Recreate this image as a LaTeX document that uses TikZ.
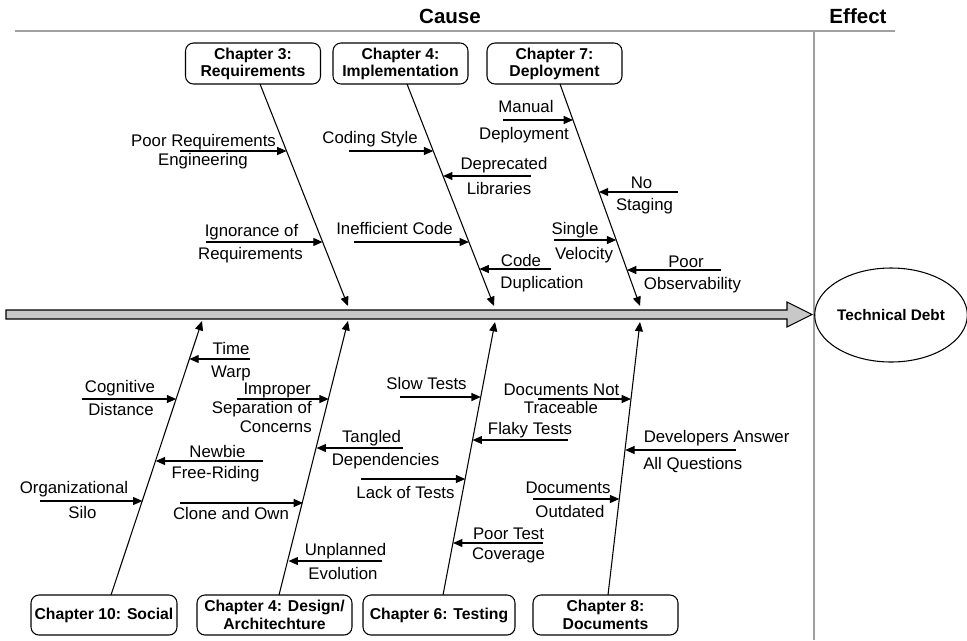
\documentclass[tikz,border=0pt]{standalone}
\usepackage{fontspec}
\setmainfont{Liberation Sans}
\usetikzlibrary{arrows.meta,shapes.geometric}
\definecolor{rulegray}{HTML}{A0A0A0}
\definecolor{spinegray}{HTML}{C8C8C8}
\tikzset{
  lbl/.style={font=\fontsize{12.6}{14}\selectfont, inner sep=0pt, text height=9pt, text depth=0pt},
  chap/.style={draw, rounded corners=6pt, line width=0.8pt, align=center, inner sep=0pt,
               font=\bfseries\fontsize{11.8}{#1}\selectfont},
  hdr/.style={font=\bfseries\fontsize{15.4}{18}\selectfont, inner sep=0pt, text height=11pt, text depth=0pt},
  bone/.style={line width=0.8pt, -{Triangle[length=7pt,width=6pt]}},
  cause/.style={line width=0.8pt, -{Triangle[length=7pt,width=6pt]}},
  rule/.style={draw=rulegray, line width=1.5pt},
}
\begin{document}
\begin{tikzpicture}[x=0.75pt,y=-0.75pt]
\fill[white] (0,0) rectangle (967,640);
\useasboundingbox (0,0) rectangle (967,640);

% header
\node[hdr] (cause) at (450,16) {Cause};
\node[hdr] (effect) at (858,16) {Effect};
\coordinate (rl) at (15,31); \coordinate (rr) at (895,31);
\coordinate (vt) at (814,31); \coordinate (vb) at (814,640);
\draw[rule] (rl) -- (rr);
\draw[draw=rulegray, line width=1.1pt] (vt) -- (vb);

% spine
\draw[fill=spinegray, line width=0.8pt] (6,310) -- (787,310) -- (787,302) -- (812,314.5)
  -- (787,327) -- (787,319) -- (6,319) -- cycle;

% effect
\node[ellipse, draw, line width=0.8pt, minimum width=105.75pt, minimum height=70.5pt, inner sep=0pt,
      font=\bfseries\fontsize{11.5}{13}\selectfont] (td) at (891,315) {Technical Debt};

% top chapter boxes
\node[chap=12.75, minimum width=101.25pt, minimum height=30.75pt] (c3) at (253,63.5) {Chapter 3:\\Requirements};
\node[chap=12.75, minimum width=101.25pt, minimum height=30.75pt] (c4) at (400.5,63.5) {Chapter 4:\\Implementation};
\node[chap=12.75, minimum width=101.25pt, minimum height=30.75pt] (c7) at (554.5,63.5) {Chapter 7:\\Deployment};

% bottom chapter boxes
\node[chap=14, minimum width=109.5pt, minimum height=30pt] (c10) at (104,615) {Chapter 10: Social};
\node[chap=14, minimum width=116.25pt, minimum height=30pt] (c4d) at (274.5,615) {Chapter 4: Design/\\Architechture};
\node[chap=14, minimum width=114pt, minimum height=30pt] (c6) at (439,615) {Chapter 6: Testing};
\node[chap=14, minimum width=108.75pt, minimum height=30pt] (c8) at (605.5,615) {Chapter 8:\\Documents};

% main bones
\coordinate (c3s) at (260,84);   \coordinate (c3e) at (348,306);
\coordinate (c4s) at (407,84);   \coordinate (c4e) at (494,306);
\coordinate (c7s) at (560,84);   \coordinate (c7e) at (640,306);
\coordinate (c10s) at (111,595); \coordinate (c10e) at (202,321);
\coordinate (c4ds) at (279,595); \coordinate (c4de) at (348,321);
\coordinate (c6s) at (443,595);  \coordinate (c6e) at (495,322);
\coordinate (c8s) at (608,595);  \coordinate (c8e) at (640,322);
\foreach \b in {c3,c4,c7,c10,c4d,c6,c8} { \draw[bone] (\b s) -- (\b e); }

% --- Chapter 3 causes
\node[lbl] (l1a) at (203.5,140) {Poor Requirements};
\node[lbl] (l1b) at (203,159) {Engineering};
\coordinate (a1s) at (180,151); \coordinate (a1e) at (286.5,151);
\node[lbl] (l2a) at (251.5,230) {Ignorance of};
\node[lbl] (l2b) at (250.5,253) {Requirements};
\coordinate (a2s) at (206,242); \coordinate (a2e) at (322.6,242);

% --- Chapter 4 implementation causes
\node[lbl] (l3) at (370,137) {Coding Style};
\coordinate (a3s) at (349,151); \coordinate (a3e) at (433.3,151);
\node[lbl] (l4) at (394.5,228) {Inefficient Code};
\coordinate (a4s) at (354,242); \coordinate (a4e) at (468.9,242);
\node[lbl] (l5a) at (504,163) {Deprecated};
\node[lbl] (l5b) at (499,188) {Libraries};
\coordinate (a5s) at (531,176); \coordinate (a5e) at (443.1,176);
\node[lbl] (l6a) at (521,260) {Code};
\node[lbl] (l6b) at (542,282) {Duplication};
\coordinate (a6s) at (551,269); \coordinate (a6e) at (479.5,269);

% --- Chapter 7 causes
\node[lbl] (l7a) at (526,106) {Manual};
\node[lbl] (l7b) at (524,133) {Deployment};
\coordinate (a7s) at (503,120); \coordinate (a7e) at (573,120);
\node[lbl] (l8a) at (641.5,182) {No};
\node[lbl] (l8b) at (644.5,204) {Staging};
\coordinate (a8s) at (678,192); \coordinate (a8e) at (598.9,192);
\node[lbl] (l9a) at (575,228) {Single};
\node[lbl] (l9b) at (584,253) {Velocity};
\coordinate (a9s) at (554,240); \coordinate (a9e) at (616.2,240);
\node[lbl] (l10a) at (686,261) {Poor};
\node[lbl] (l10b) at (692.5,283) {Observability};
\coordinate (a10s) at (721,270); \coordinate (a10e) at (627,270);

% --- Chapter 10 causes
\node[lbl] (l11a) at (231,348) {Time};
\node[lbl] (l11b) at (231,371) {Warp};
\coordinate (a11s) at (250,359); \coordinate (a11e) at (189.4,359);
\node[lbl] (l12a) at (120,386) {Cognitive};
\node[lbl] (l12b) at (121,409) {Distance};
\coordinate (a12s) at (82,399); \coordinate (a12e) at (176.2,399);
\node[lbl] (l13a) at (217.5,451) {Newbie};
\node[lbl] (l13b) at (215.5,472) {Free-Riding};
\coordinate (a13s) at (263,461); \coordinate (a13e) at (155.7,461);
\node[lbl] (l14a) at (74,487) {Organizational};
\node[lbl] (l14b) at (82.5,512) {Silo};
\coordinate (a14s) at (40,501); \coordinate (a14e) at (142.4,501);

% --- Chapter 4 design causes
\node[lbl, anchor=east] (l15a) at (311,388) {Improper};
\node[lbl, anchor=east] (l15b) at (312,407) {Separation of};
\node[lbl, anchor=east] (l15c) at (312,426) {Concerns};
\coordinate (a15s) at (237,399); \coordinate (a15e) at (328.7,399);
\node[lbl] (l16a) at (371.5,436) {Tangled};
\node[lbl] (l16b) at (385.5,459) {Dependencies};
\coordinate (a16s) at (403,448); \coordinate (a16e) at (316.6,448);
\node[lbl] (l17) at (231,513) {Clone and Own};
\coordinate (a17s) at (180,503); \coordinate (a17e) at (303,503);
\node[lbl] (l18a) at (345.5,549) {Unplanned};
\node[lbl] (l18b) at (343,573) {Evolution};
\coordinate (a18s) at (382,561); \coordinate (a18e) at (288.6,561);

% --- Chapter 6 causes
\node[lbl] (l19) at (426.5,383) {Slow Tests};
\coordinate (a19s) at (400,397); \coordinate (a19e) at (480.8,397);
\node[lbl] (l20) at (530,428) {Flaky Tests};
\coordinate (a20s) at (568,440); \coordinate (a20e) at (472.6,440);
\node[lbl] (l21) at (405.5,492) {Lack of Tests};
\coordinate (a21s) at (361,479); \coordinate (a21e) at (465.2,479);
\node[lbl] (l22a) at (508.5,533) {Poor Test};
\node[lbl] (l22b) at (508.5,553) {Coverage};
\coordinate (a22s) at (543,543); \coordinate (a22e) at (453.1,543);

% --- Chapter 8 causes
\node[lbl] (l23a) at (561.5,389) {Documents Not};
\node[lbl] (l23b) at (561,407) {Traceable};
\coordinate (a23s) at (538,399); \coordinate (a23e) at (631,399);
\node[lbl, anchor=west] (l24a) at (643.5,436) {Developers Answer};
\node[lbl, anchor=west] (l24b) at (643,463) {All Questions};
\coordinate (a24s) at (736,450); \coordinate (a24e) at (625.2,450);
\node[lbl] (l25a) at (568,487) {Documents};
\node[lbl] (l25b) at (570,511) {Outdated};
\coordinate (a25s) at (533,499); \coordinate (a25e) at (619.3,499);

\foreach \i in {1,...,25} { \draw[cause] (a\i s) -- (a\i e); }
\end{tikzpicture}
\end{document}
